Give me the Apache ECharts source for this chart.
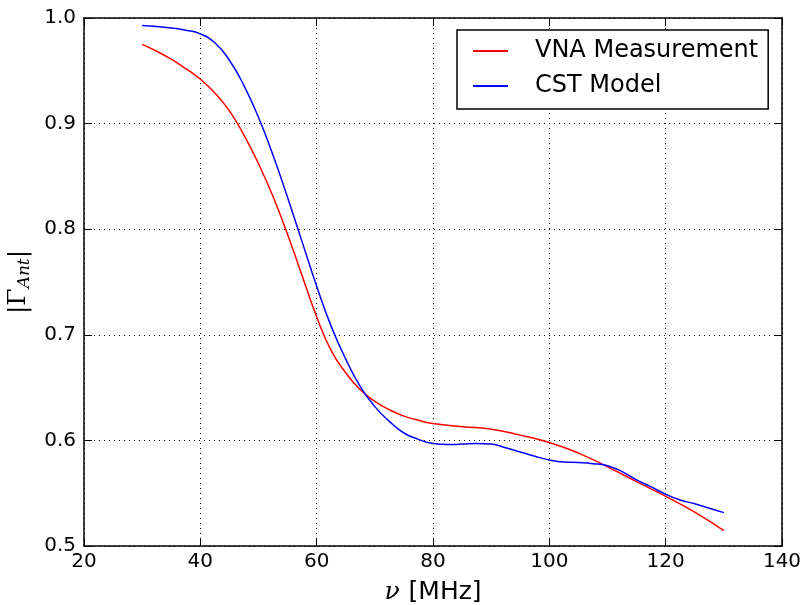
<!DOCTYPE html>
<html>
<head>
<meta charset="utf-8">
<script src="https://cdn.jsdelivr.net/npm/echarts@6/dist/echarts.min.js"></script>
<style>html,body{margin:0;padding:0;background:#fff}#c{width:803px;height:605px}</style>
</head>
<body>
<div id="c"></div>
<script>
const freqVNA = [30, 32.5, 35, 37.5, 40, 42.5, 45, 47.5, 50, 52.5, 55, 57.5, 60, 62.5, 65, 67.5, 70, 72.5, 75, 77.5, 80, 85, 90, 95, 100, 105, 110, 115, 120, 125, 130];
const vna = [0.975, 0.9685, 0.961, 0.952, 0.942, 0.929, 0.912, 0.889, 0.862, 0.831, 0.795, 0.756, 0.717, 0.685, 0.664, 0.648, 0.637, 0.629, 0.623, 0.619, 0.616, 0.613, 0.6106, 0.605, 0.598, 0.588, 0.575, 0.561, 0.547, 0.532, 0.5145];
const freqCST = [30, 32.5, 35, 37.5, 40, 42.5, 45, 47.5, 50, 52.5, 55, 57.5, 60, 62.5, 65, 67.5, 70, 72.5, 75, 77.5, 80, 82.5, 85, 87.5, 90, 92.5, 95, 97.5, 100, 102.5, 105, 107.5, 110, 112.5, 115, 117.5, 120, 122.5, 125, 127.5, 130];
const cst = [0.993, 0.992, 0.9905, 0.9885, 0.985, 0.9765, 0.960, 0.936, 0.906, 0.870, 0.830, 0.788, 0.746, 0.708, 0.677, 0.651, 0.632, 0.618, 0.607, 0.601, 0.597, 0.596, 0.5965, 0.597, 0.5965, 0.593, 0.589, 0.585, 0.5815, 0.5795, 0.579, 0.578, 0.576, 0.5705, 0.5626, 0.556, 0.549, 0.5435, 0.540, 0.5357, 0.5316];
const seriesNames = ['VNA Measurement', 'CST Model'];
const xTicks = [20, 140, 20];
const yTicks = [0.5, 1.0, 0.1];

const F = 'DejaVu Sans';
const chart = echarts.init(document.getElementById('c'), null, {renderer: 'canvas'});
const pair = (xs, ys) => xs.map((x, i) => [x, ys[i]]);
const axisCommon = {
  axisLine: {show: true, lineStyle: {color: '#000', width: 1.5}},
  axisTick: {show: true, inside: true, length: 8, lineStyle: {color: '#000', width: 1}},
};
chart.setOption({
  animation: false,
  grid: {left: 84, right: 21, top: 18, bottom: 59, containLabel: false, outerBoundsMode: 'none'},
  legend: {
    left: 457, top: 30, orient: 'vertical',
    data: seriesNames.map(n => ({name: n, icon: 'rect'})),
    itemWidth: 35, itemHeight: 2, itemGap: 11,
    padding: [9, 10, 11, 16],
    borderColor: '#000', borderWidth: 1.5, borderRadius: 0,
    backgroundColor: '#fff',
    textStyle: {fontFamily: F, fontSize: 24, color: '#000', lineHeight: 24, padding: [0, 0, 0, 22]}
  },
  xAxis: [{
    type: 'value', min: xTicks[0], max: xTicks[1], interval: xTicks[2], position: 'bottom',
    ...axisCommon,
    axisLabel: {fontFamily: F, fontSize: 20, color: '#000', margin: 6},
    splitLine: {show: true, lineStyle: {color: '#000', type: [1, 4], width: 1}},
    name: '{i|ν}{n|[MHz]}', nameLocation: 'middle', nameGap: 34,
    nameTextStyle: {rich: {
      i: {fontFamily: 'DejaVu Serif', fontStyle: 'italic', fontSize: 25, color: '#000'},
      n: {fontFamily: F, fontSize: 25, color: '#000', padding: [0, 0, 0, 9]}
    }}
  }, {
    type: 'value', min: xTicks[0], max: xTicks[1], interval: xTicks[2], position: 'top',
    ...axisCommon, axisLabel: {show: false}, splitLine: {show: false}
  }],
  yAxis: [{
    type: 'value', min: yTicks[0], max: yTicks[1], interval: yTicks[2], position: 'left',
    ...axisCommon,
    axisLabel: {fontFamily: F, fontSize: 20, color: '#000', margin: 8, formatter: v => v.toFixed(1)},
    splitLine: {show: true, lineStyle: {color: '#000', type: [1, 4], width: 1}},
    name: '{a||Γ}{s|Ant}{a||}', nameLocation: 'middle', nameGap: 45, nameRotate: 90,
    nameTextStyle: {rich: {
      a: {fontFamily: 'DejaVu Serif', fontSize: 25, color: '#000', lineHeight: 30},
      s: {fontFamily: 'DejaVu Serif', fontStyle: 'italic', fontSize: 17, color: '#000', lineHeight: 30, padding: [12, 0, 0, 0]}
    }}
  }, {
    type: 'value', min: yTicks[0], max: yTicks[1], interval: yTicks[2], position: 'right',
    ...axisCommon, axisLabel: {show: false}, splitLine: {show: false}
  }],
  series: [{
    name: seriesNames[0], type: 'line', data: pair(freqVNA, vna), smooth: 0.5,
    showSymbol: false, lineStyle: {color: '#ff0000', width: 1.5}, itemStyle: {color: '#ff0000'}
  }, {
    name: seriesNames[1], type: 'line', data: pair(freqCST, cst), smooth: 0.5,
    showSymbol: false, lineStyle: {color: '#0000ff', width: 1.5}, itemStyle: {color: '#0000ff'}
  }]
});
</script>
</body>
</html>
